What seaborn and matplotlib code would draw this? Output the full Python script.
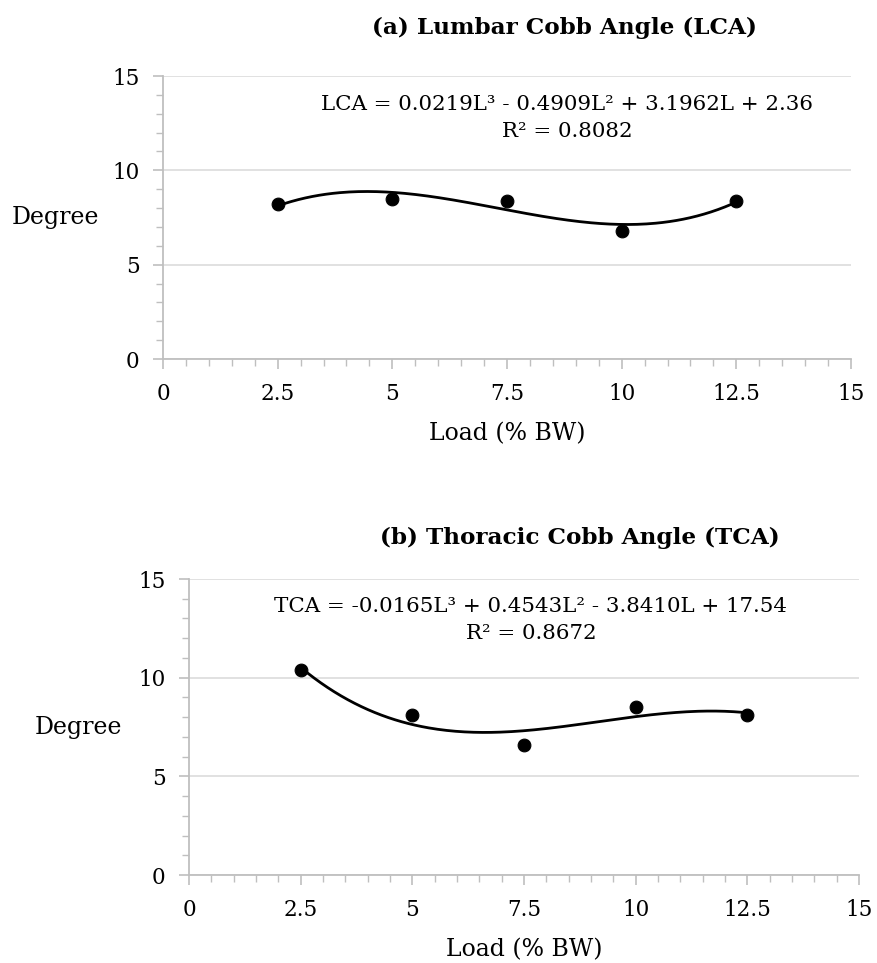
import numpy as np
import pandas as pd
import matplotlib
matplotlib.use('Agg')
import matplotlib.pyplot as plt
import seaborn as sns
from matplotlib.ticker import MultipleLocator, FormatStrFormatter

# data
load = [2.5, 5, 7.5, 10, 12.5]
lca = [8.2, 8.5, 8.4, 6.8, 8.4]
tca = [10.4, 8.1, 6.6, 8.5, 8.1]

titles = ['(a) Lumbar Cobb Angle (LCA)', '(b) Thoracic Cobb Angle (TCA)']
equations = ['LCA = 0.0219L³ - 0.4909L² + 3.1962L + 2.36\nR² = 0.8082',
             'TCA = -0.0165L³ + 0.4543L² - 3.8410L + 17.54\nR² = 0.8672']

sns.set_style('white')
plt.rcParams['font.family'] = ['DejaVu Serif']
plt.rcParams['text.color'] = 'black'
plt.rcParams['axes.labelcolor'] = 'black'
plt.rcParams['xtick.labelcolor'] = 'black'
plt.rcParams['ytick.labelcolor'] = 'black'

fig = plt.figure(figsize=(8.77, 9.63), dpi=100)
W, H = 877, 963

# axes boxes in pixels: left, top, right, bottom
boxes = [(163, 76, 851, 359), (189, 579, 859, 875)]
title_pos = [(565, 28), (580, 538)]
eq_pos = [(567, 118), (531, 620)]
ylabel_x = [55, 78]

for i, y in enumerate([lca, tca]):
    l, t, r, b = boxes[i]
    ax = fig.add_axes([l / W, 1 - b / H, (r - l) / W, (b - t) / H])
    df = pd.DataFrame({'load': load, 'deg': y})

    # cubic trendline fitted to the points
    coef = np.polyfit(df['load'], df['deg'], 3)
    xs = np.linspace(min(load), max(load), 200)
    fit = pd.DataFrame({'load': xs, 'deg': np.polyval(coef, xs)})
    sns.lineplot(data=fit, x='load', y='deg', ax=ax, color='black', linewidth=2, zorder=3)
    sns.scatterplot(data=df, x='load', y='deg', ax=ax, color='black', s=85,
                    edgecolor='black', zorder=4)

    ax.set_xlim(0, 15)
    ax.set_ylim(0, 15)
    ax.xaxis.set_major_locator(MultipleLocator(2.5))
    ax.xaxis.set_minor_locator(MultipleLocator(0.5))
    ax.yaxis.set_major_locator(MultipleLocator(5))
    ax.yaxis.set_minor_locator(MultipleLocator(1))
    ax.xaxis.set_major_formatter(FormatStrFormatter('%g'))
    ax.grid(axis='y', which='major', color='#d9d9d9', linewidth=1.1)
    ax.set_axisbelow(True)
    sns.despine(ax=ax)
    for s in ['left', 'bottom']:
        ax.spines[s].set_color('#bfbfbf')
        ax.spines[s].set_linewidth(1.3)
    ax.tick_params(which='major', length=7, width=1.2, color='#bfbfbf',
                   labelsize=15.5, pad=10, direction='out')
    ax.tick_params(which='minor', length=5, width=1.0, color='#bfbfbf', direction='out')
    ax.tick_params(axis='x', which='both', bottom=True)
    ax.tick_params(axis='y', which='both', left=True)

    ax.set_xlabel('Load (% BW)', fontsize=17, labelpad=13)
    ax.set_ylabel('Degree', fontsize=17, rotation=0, ha='center', va='center')
    ax.yaxis.set_label_coords(-(l - ylabel_x[i]) / (r - l), 0.5)

    fig.text(title_pos[i][0] / W, 1 - title_pos[i][1] / H, titles[i],
             fontsize=16.7, fontweight='bold', ha='center', va='center')
    fig.text(eq_pos[i][0] / W, 1 - eq_pos[i][1] / H, equations[i],
             fontsize=15.4, ha='center', va='center', multialignment='center',
             linespacing=1.55)

plt.savefig('out.png', dpi=100)
plt.close()
